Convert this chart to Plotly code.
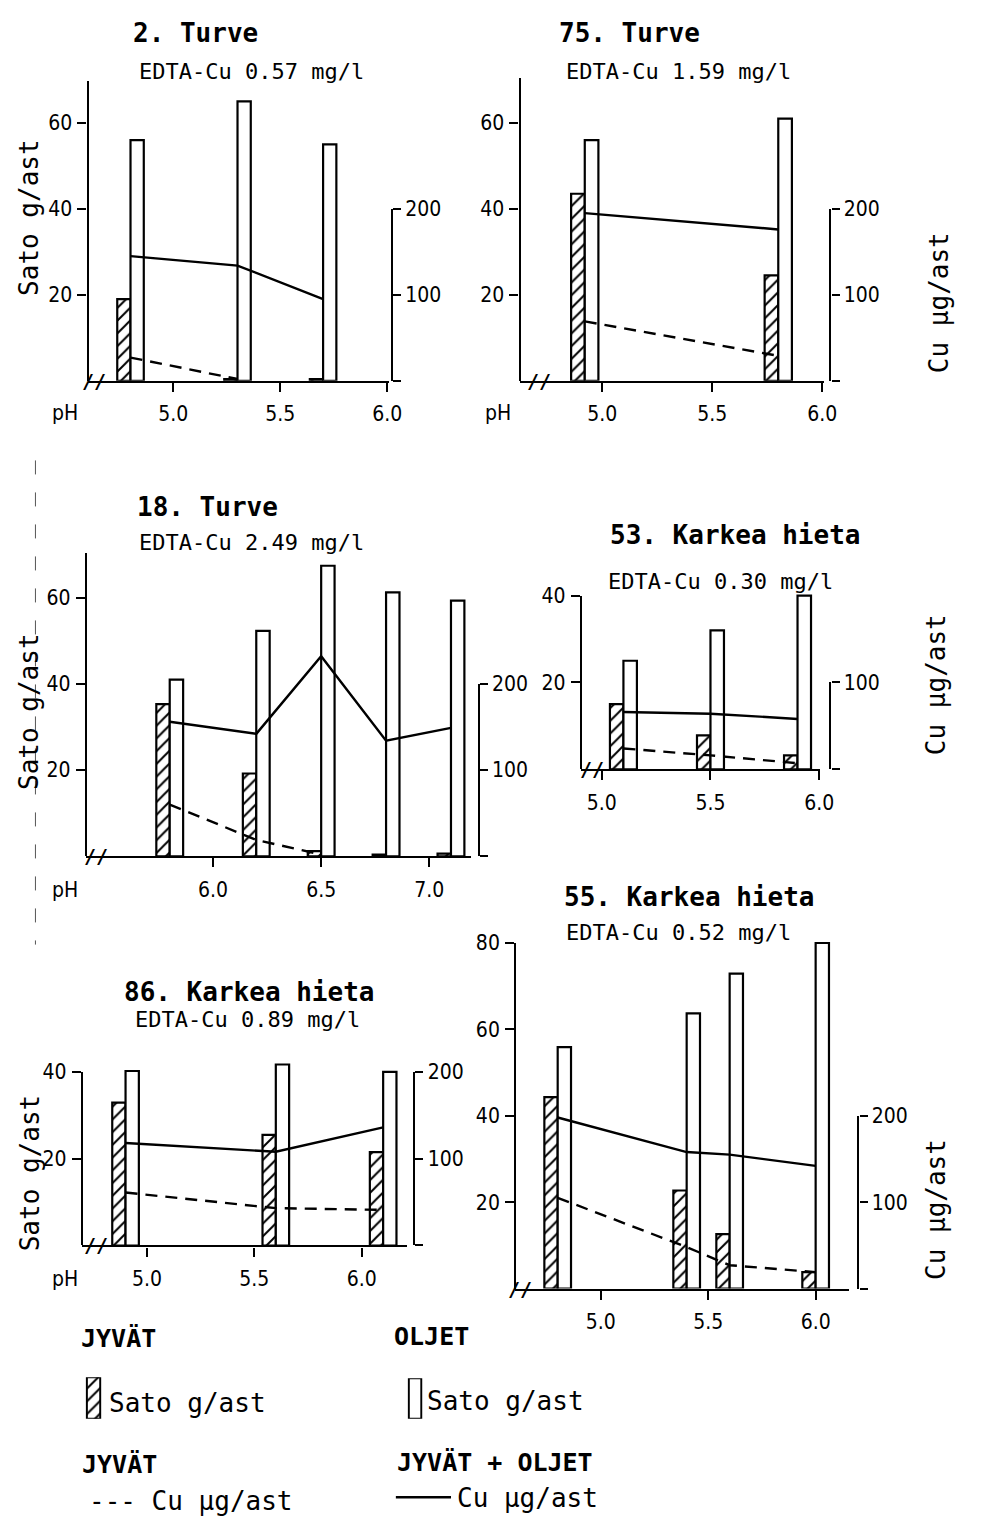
import plotly.graph_objects as go

W, H = 982, 1521

# ---------------- data ----------------
# 2. Turve
p1_ph = [4.8, 5.3, 5.7]
p1_grain = [19, 0.4, 0.4]
p1_straw = [56, 65, 55]
p1_cu_total = [145, 134, 95]
p1_cu_grain = [27, 2, None]

# 75. Turve
p2_ph = [4.92, 5.8]
p2_grain = [43.5, 24.5]
p2_straw = [56, 61]
p2_cu_total = [195, 176]
p2_cu_grain = [69, 29]

# 18. Turve
p3_ph = [5.8, 6.2, 6.5, 6.8, 7.1]
p3_grain = [35.3, 19.2, 1.2, 0.4, 0.6]
p3_straw = [41, 52.3, 67.4, 61.2, 59.3]
p3_cu_total = [156, 142, 232, 134, 149]
p3_cu_grain = [60, 19, 2, None, None]

# 53. Karkea hieta
p4_ph = [5.1, 5.5, 5.9]
p4_grain = [15, 7.8, 3.2]
p4_straw = [25, 32, 40]
p4_cu_total = [66, 64, 58]
p4_cu_grain = [24, 16, 7]

# 86. Karkea hieta
p5_ph = [4.9, 5.6, 6.1]
p5_grain = [32.9, 25.5, 21.5]
p5_straw = [40.2, 41.7, 40]
p5_cu_total = [118, 108, 136]
p5_cu_grain = [61, 43, 41]

# 55. Karkea hieta
p6_ph = [4.8, 5.4, 5.6, 6.0]
p6_grain = [44.3, 22.7, 12.6, 3.8]
p6_straw = [55.9, 63.7, 72.9, 80]
p6_cu_total = [198, 158, 155, 142]
p6_cu_grain = [105, 48, 27, 19]

titles = ["2. Turve", "75. Turve", "18. Turve", "53. Karkea hieta", "86. Karkea hieta", "55. Karkea hieta"]
subtitles = ["EDTA-Cu 0.57 mg/l", "EDTA-Cu 1.59 mg/l", "EDTA-Cu 2.49 mg/l",
             "EDTA-Cu 0.30 mg/l", "EDTA-Cu 0.89 mg/l", "EDTA-Cu 0.52 mg/l"]
x_ticks = [[5.0, 5.5, 6.0], [5.0, 5.5, 6.0], [6.0, 6.5, 7.0], [5.0, 5.5, 6.0], [5.0, 5.5, 6.0], [5.0, 5.5, 6.0]]
y_ticks = [[20, 40, 60], [20, 40, 60], [20, 40, 60], [20, 40], [20, 40], [20, 40, 60, 80]]
cu_ticks = [[0, 100, 200], [0, 100, 200], [0, 100, 200], [0, 100], [0, 100, 200], [0, 100, 200]]

data = [
    (p1_ph, p1_grain, p1_straw, p1_cu_total, p1_cu_grain),
    (p2_ph, p2_grain, p2_straw, p2_cu_total, p2_cu_grain),
    (p3_ph, p3_grain, p3_straw, p3_cu_total, p3_cu_grain),
    (p4_ph, p4_grain, p4_straw, p4_cu_total, p4_cu_grain),
    (p5_ph, p5_grain, p5_straw, p5_cu_total, p5_cu_grain),
    (p6_ph, p6_grain, p6_straw, p6_cu_total, p6_cu_grain),
]

# ---------------- layout geometry (pixels) ----------------
geo = [
    dict(xl=89, xr=395, xa=(5.0, 176), xb=(6.0, 393.3), y0=371.7, ytop=70, ppu=4.333, rx=398,
         title=(199, 21), sub=(255, 60), ylab=(30, 207), cul=None, ph=(66, 404), brk=95),
    dict(xl=527.7, xr=836.7, xa=(5.0, 611.7), xb=(6.0, 835), y0=371.7, ytop=66.7, ppu=4.333, rx=843.3,
         title=(639, 21), sub=(689, 60), ylab=None, cul=(953, 293), ph=(506, 404), brk=547),
    dict(xl=87.3, xr=478, xa=(6.0, 216.3), xb=(7.0, 436), y0=851, ytop=545, ppu=4.345, rx=486,
         title=(211, 499), sub=(255, 535), ylab=(30, 705), cul=None, ph=(66, 885), brk=97),
    dict(xl=590, xr=832.3, xa=(5.0, 611), xb=(6.0, 832), y0=763.3, ytop=588.3, ppu=4.375, rx=843.3,
         title=(746, 527), sub=(732, 574), ylab=None, cul=(950, 678), ph=None, brk=601),
    dict(xl=83.3, xr=413, xa=(5.0, 149.3), xb=(6.0, 367.3), y0=1243.3, ytop=1068.3, ppu=4.375, rx=420.7,
         title=(253, 988), sub=(251, 1016), ylab=(30, 1170), cul=None, ph=(66, 1277), brk=97),
    dict(xl=523.3, xr=861.7, xa=(5.0, 610), xb=(6.0, 828.3), y0=1286.7, ytop=938.3, ppu=4.354, rx=871.7,
         title=(700, 892), sub=(689, 928), ylab=None, cul=(951, 1207), ph=None, brk=528),
]

BAR_W = 0.062
CU_RATIO = 5.0
MONO = "DejaVu Sans Mono"
COND = "DejaVu Sans Condensed, DejaVu Sans Mono"
LW = 2.4
HEADROOM = 24  # px of extra plotting room above the drawn left axis


def fx(px):
    return px / W


def fy(py):
    return 1 - py / H


fig = go.Figure()
layout = dict(width=W, height=H, margin=dict(l=0, r=0, t=0, b=0), autosize=False,
              paper_bgcolor="white", plot_bgcolor="rgba(0,0,0,0)", showlegend=False,
              barmode="overlay")
annotations = []
shapes = []

tickfont = dict(family=COND, size=21, color="black")
axis_common = dict(showline=True, linewidth=LW, linecolor="black", showgrid=False, zeroline=False,
                   ticks="outside", tickwidth=LW, tickcolor="black", tickfont=tickfont, fixedrange=True)

for i, ((ph, grain, straw, cu_t, cu_g), g) in enumerate(zip(data, geo)):
    xn = "" if i == 0 else str(i + 1)
    yb = "" if i == 0 else str(4 * i + 1)   # bars (hidden, with headroom)
    yc = str(4 * i + 2)                       # Cu overlay (hidden)
    yr = str(4 * i + 3)                       # right Cu axis (drawn)
    yl = str(4 * i + 4)                       # left Sato axis (drawn)
    (pa, pxa), (pb, pxb) = g["xa"], g["xb"]
    ppx = (pxb - pxa) / (pb - pa)
    xrange = [pa + (g["xl"] - pxa) / ppx, pa + (g["xr"] - pxa) / ppx]
    ymax = (g["y0"] - g["ytop"]) / g["ppu"]
    ytop_ext = g["ytop"] - HEADROOM
    ymax_ext = (g["y0"] - ytop_ext) / g["ppu"]
    rmax = max(cu_ticks[i])
    ydisp_top = g["y0"] - rmax / CU_RATIO * g["ppu"]

    layout["xaxis" + xn] = dict(axis_common, domain=[fx(g["xl"]), fx(g["xr"])], range=xrange,
                                anchor="y" + yb, ticklen=9, tickvals=x_ticks[i],
                                ticktext=[f"{v:.1f}" for v in x_ticks[i]], ticklabelstandoff=4)
    layout["yaxis" + yb] = dict(domain=[fy(g["y0"]), fy(ytop_ext)], range=[0, ymax_ext],
                                anchor="x" + xn, visible=False, showgrid=False, zeroline=False,
                                fixedrange=True)
    layout["yaxis" + yc] = dict(overlaying="y" + yb, anchor="x" + xn, range=[0, ymax_ext * CU_RATIO],
                                visible=False, showgrid=False, zeroline=False, fixedrange=True)
    layout["yaxis" + yr] = dict(axis_common, domain=[fy(g["y0"]), fy(ydisp_top)], range=[0, rmax],
                                anchor="free", position=fx(g["rx"]), side="right", ticklen=8,
                                tickvals=cu_ticks[i],
                                ticktext=["" if v == 0 else str(v) for v in cu_ticks[i]],
                                ticklabelstandoff=0)
    layout["yaxis" + yl] = dict(axis_common, domain=[fy(g["y0"]), fy(g["ytop"])], range=[0, ymax],
                                anchor="free", position=fx(g["xl"]), side="left", ticklen=9,
                                tickvals=y_ticks[i], ticklabelstandoff=1)

    # grains (hatched) left of pH, straw (open) right of pH
    fig.add_trace(go.Bar(x=ph, y=grain, width=BAR_W, offset=-BAR_W, xaxis="x" + xn, yaxis="y" + yb,
                         marker=dict(color="white", line=dict(color="black", width=2.2),
                                     pattern=dict(shape="/", fgcolor="black", bgcolor="white",
                                                  size=9, solidity=0.22, fillmode="replace"))))
    fig.add_trace(go.Bar(x=ph, y=straw, width=BAR_W, offset=0, xaxis="x" + xn, yaxis="y" + yb,
                         marker=dict(color="white", line=dict(color="black", width=2.2))))
    fig.add_trace(go.Scatter(x=ph, y=cu_t, mode="lines", xaxis="x" + xn, yaxis="y" + yc,
                             line=dict(color="black", width=2.4)))
    fig.add_trace(go.Scatter(x=ph, y=cu_g, mode="lines", xaxis="x" + xn, yaxis="y" + yc,
                             line=dict(color="black", width=2.4, dash="12px,8px")))
    fig.add_trace(go.Scatter(x=[], y=[], mode="lines", xaxis="x" + xn, yaxis="y" + yr))
    fig.add_trace(go.Scatter(x=[], y=[], mode="lines", xaxis="x" + xn, yaxis="y" + yl))

    annotations.append(dict(text=titles[i], x=fx(g["title"][0]), y=fy(g["title"][1]), xref="paper",
                            yref="paper", showarrow=False, xanchor="center", yanchor="middle",
                            font=dict(family=MONO, size=26, color="black", weight="bold")))
    annotations.append(dict(text=subtitles[i], x=fx(g["sub"][0]), y=fy(g["sub"][1]), xref="paper",
                            yref="paper", showarrow=False, xanchor="center", yanchor="middle",
                            font=dict(family=MONO, size=22, color="black")))
    if g["ylab"]:
        annotations.append(dict(text="Sato g/ast", x=fx(g["ylab"][0]), y=fy(g["ylab"][1]), xref="paper",
                                yref="paper", showarrow=False, textangle=-90, xanchor="center",
                                yanchor="middle", font=dict(family=MONO, size=26, color="black")))
    if g["cul"]:
        annotations.append(dict(text="Cu µg/ast", x=fx(g["cul"][0]), y=fy(g["cul"][1]), xref="paper",
                                yref="paper", showarrow=False, textangle=-90, xanchor="center",
                                yanchor="middle", font=dict(family=MONO, size=26, color="black")))
    if g["ph"]:
        annotations.append(dict(text="pH", x=fx(g["ph"][0]), y=fy(g["ph"][1]), xref="paper",
                                yref="paper", showarrow=False, xanchor="center", yanchor="middle",
                                font=dict(family=COND, size=21, color="black")))
    annotations.append(dict(text="//", x=fx(g["brk"]), y=fy(g["y0"]), xref="paper", yref="paper",
                            showarrow=False, xanchor="center", yanchor="middle",
                            font=dict(family=MONO, size=20, color="black", weight="bold")))

# ---------------- legend ----------------
layout["xaxis7"] = dict(domain=[fx(87), fx(103)], range=[-0.5, 0.5], anchor="y25", visible=False, fixedrange=True)
layout["yaxis25"] = dict(domain=[fy(1418), fy(1376)], range=[0, 1], anchor="x7", visible=False, fixedrange=True)
layout["xaxis8"] = dict(domain=[fx(414), fx(429)], range=[-0.5, 0.5], anchor="y26", visible=False, fixedrange=True)
layout["yaxis26"] = dict(domain=[fy(1418), fy(1377)], range=[0, 1], anchor="x8", visible=False, fixedrange=True)
fig.add_trace(go.Bar(x=[0], y=[1], width=0.86, xaxis="x7", yaxis="y25",
                     marker=dict(color="white", line=dict(color="black", width=2.2),
                                 pattern=dict(shape="/", fgcolor="black", bgcolor="white",
                                              size=9, solidity=0.22, fillmode="replace"))))
fig.add_trace(go.Bar(x=[0], y=[1], width=0.86, xaxis="x8", yaxis="y26",
                     marker=dict(color="white", line=dict(color="black", width=2.2))))

leg_font_b = dict(family=MONO, size=25, color="black", weight="bold")
leg_font = dict(family=MONO, size=26, color="black")
legend_texts = [
    ("JYVÄT", 80, 1337, leg_font_b),
    ("OLJET", 398, 1335, leg_font_b),
    ("Sato g/ast", 109, 1402, leg_font),
    ("Sato g/ast", 432, 1400, leg_font),
    ("JYVÄT", 81, 1464, leg_font_b),
    ("JYVÄT + OLJET", 401, 1462, leg_font_b),
    ("--- Cu µg/ast", 88, 1501, leg_font),
    ("Cu µg/ast", 462, 1498, leg_font),
]
for t, x, y, f in legend_texts:
    annotations.append(dict(text=t, x=fx(x), y=fy(y), xref="paper", yref="paper", showarrow=False,
                            xanchor="left", yanchor="middle", font=f))
shapes.append(dict(type="line", xref="paper", yref="paper", x0=fx(402), x1=fx(458), y0=fy(1497),
                   y1=fy(1497), line=dict(color="black", width=2.4)))
# scan artefact: dashed vertical line at left margin
shapes.append(dict(type="line", xref="paper", yref="paper", x0=fx(36), x1=fx(36), y0=fy(452),
                   y1=fy(940), line=dict(color="#555555", width=1, dash="14px,18px")))

layout["annotations"] = annotations
layout["shapes"] = shapes
fig.update_layout(**layout)
fig.write_html("out.html")
